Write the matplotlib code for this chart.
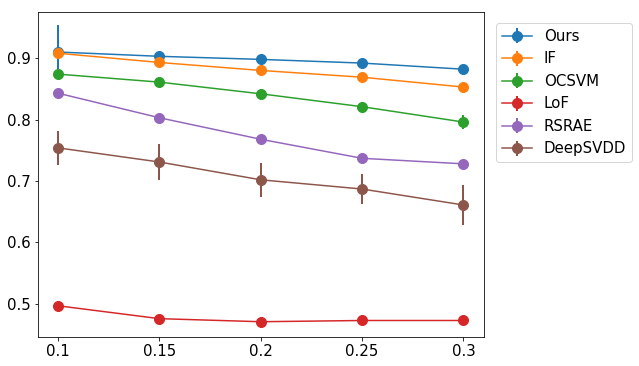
import matplotlib
matplotlib.use("Agg")
import matplotlib.pyplot as plt
import numpy as np

x_labels = ["0.1", "0.15", "0.2", "0.25", "0.3"]
methods = ["Ours", "IF", "OCSVM", "LoF", "RSRAE", "DeepSVDD"]
ours = [0.910, 0.903, 0.898, 0.892, 0.882]
ours_err = [0.044, 0.004, 0.004, 0.004, 0.004]
iforest = [0.908, 0.893, 0.880, 0.869, 0.853]
iforest_err = [0.003, 0.003, 0.003, 0.003, 0.003]
ocsvm = [0.874, 0.861, 0.842, 0.821, 0.796]
ocsvm_err = [0.003, 0.004, 0.007, 0.007, 0.012]
lof = [0.497, 0.476, 0.471, 0.473, 0.473]
lof_err = [0.002, 0.002, 0.002, 0.002, 0.002]
rsrae = [0.843, 0.803, 0.768, 0.737, 0.728]
rsrae_err = [0.002, 0.002, 0.002, 0.002, 0.002]
deepsvdd = [0.754, 0.731, 0.702, 0.687, 0.661]
deepsvdd_err = [0.028, 0.029, 0.028, 0.025, 0.033]

series = [ours, iforest, ocsvm, lof, rsrae, deepsvdd]
errs = [ours_err, iforest_err, ocsvm_err, lof_err, rsrae_err, deepsvdd_err]
colors = ["#1f77b4", "#ff7f0e", "#2ca02c", "#d62728", "#9467bd", "#8c564b"]

fig = plt.figure(figsize=(639 / 72, 366 / 72), dpi=72)
ax = fig.add_axes([0.059, 0.079, 0.698, 0.888])
pos = np.arange(len(x_labels))
for name, y, e, c in zip(methods, series, errs, colors):
    ax.errorbar(pos, y, yerr=e, color=c, marker="o", markersize=10, linewidth=1.5,
                elinewidth=2, ecolor=c, label=name)
ax.set_xticks(pos)
ax.set_xticklabels(x_labels)
ax.set_ylim(0.446, 0.975)
ax.set_yticks([0.5, 0.6, 0.7, 0.8, 0.9])
ax.tick_params(labelsize=15)
ax.legend(loc="upper left", bbox_to_anchor=(1.01, 0.99), fontsize=15)
fig.savefig("out.png", dpi=72)
